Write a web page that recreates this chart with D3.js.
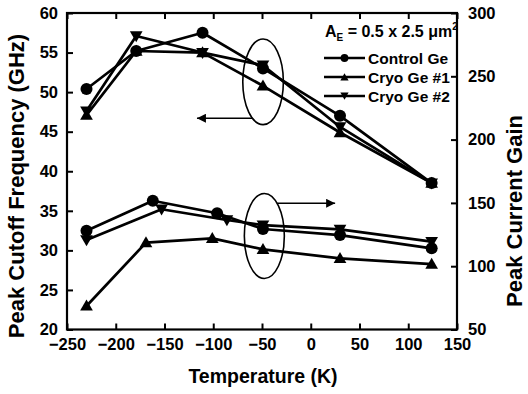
<!DOCTYPE html>
<html><head><meta charset="utf-8">
<script src="https://cdn.jsdelivr.net/npm/d3@7"></script>
<style>
body{margin:0;background:#fff}
text{font-family:"Liberation Sans",Arial,Helvetica,sans-serif;font-weight:bold;fill:#000}
</style>
</head><body><svg id="c" width="528" height="394"></svg>
<script>
// ---- data ----
const xTicks = [-250,-200,-150,-100,-50,0,50,100,150];
const yLeftTicks = [20,25,30,35,40,45,50,55,60];
const yRightTicks = [50,100,150,200,250,300];
const seriesNames = ["Control Ge","Cryo Ge #1","Cryo Ge #2"];
// Peak cutoff frequency (GHz), left axis
const ftTemp = [-230,-179,-111,-49,30,124];
const ftControl = [50.4,55.2,57.5,53.0,47.0,38.5];
const ftCryo1 = [47.1,55.2,55.0,50.8,44.9,38.5];
const ftCryo2 = [47.6,57.1,55.0,53.4,45.6,38.5];
// Peak current gain, right axis
const gainTempControl = [-230,-162,-96,-49,30,124];
const gainTempCryo1 = [-230,-169,-101,-49,30,124];
const gainTempCryo2 = [-230,-153,-86,-49,30,124];
const gainControl = [128.0,151.7,141.8,129.4,124.6,114.1];
const gainCryo1 = [68.6,118.6,122.0,113.3,106.2,101.7];
const gainCryo2 = [120.7,145.0,136.5,132.5,129.1,119.4];

// ---- layout ----
const L = 67, R = 457, T = 13, B = 329.5;
const svg = d3.select("#c");
const x = d3.scaleLinear().domain([-250,150]).range([L,R]);
const yL = d3.scaleLinear().domain([20,60]).range([B,T]);
const yR = d3.scaleLinear().domain([50,300]).range([B,T]);

const tick = 6;
const gB = svg.append("g").attr("transform",`translate(0,${B})`)
  .call(d3.axisBottom(x).tickValues(xTicks).tickSizeInner(-tick).tickSizeOuter(0).tickPadding(9).tickFormat(d3.format("d")));
const gT = svg.append("g").attr("transform",`translate(0,${T})`)
  .call(d3.axisTop(x).tickValues(xTicks).tickSizeInner(-tick).tickSizeOuter(0).tickFormat(""));
const gL = svg.append("g").attr("transform",`translate(${L},0)`)
  .call(d3.axisLeft(yL).tickValues(yLeftTicks).tickSizeInner(-tick).tickSizeOuter(0).tickPadding(9));
const gR = svg.append("g").attr("transform",`translate(${R},0)`)
  .call(d3.axisRight(yR).tickValues(yRightTicks).tickSizeInner(-tick).tickSizeOuter(0).tickPadding(11));
[gB,gT,gL,gR].forEach(g=>{
  g.selectAll(".domain").remove();
  g.selectAll(".tick line").attr("stroke","#000").attr("stroke-width",2);
  g.selectAll(".tick text").attr("font-size",16.5).attr("fill","#000")
   .style("font-family","Liberation Sans, Arial, sans-serif").style("font-weight","bold");
});
gB.selectAll(".tick text").attr("dy","0.71em");
svg.append("rect").attr("x",L).attr("y",T).attr("width",R-L).attr("height",B-T)
  .attr("fill","none").attr("stroke","#000").attr("stroke-width",2.2);

// titles
svg.append("text").attr("x",263).attr("y",383).attr("text-anchor","middle").attr("font-size",19.5).text("Temperature (K)");
svg.append("text").attr("transform","translate(24,186) rotate(-90)").attr("text-anchor","middle").attr("font-size",22).text("Peak Cutoff Frequency (GHz)");
svg.append("text").attr("transform","translate(522,211) rotate(-90)").attr("text-anchor","middle").attr("font-size",22).text("Peak Current Gain");

// symbols
const sym = {
  circle: (g,px,py,s)=>g.append("circle").attr("cx",px).attr("cy",py).attr("r",6*s).attr("fill","#000"),
  up: (g,px,py,s)=>g.append("path").attr("transform",`translate(${px},${py+1})`).attr("d",d3.symbol(d3.symbolTriangle,70*s*s)()).attr("fill","#000"),
  down: (g,px,py,s)=>g.append("path").attr("transform",`translate(${px},${py-1}) rotate(180)`).attr("d",d3.symbol(d3.symbolTriangle,70*s*s)()).attr("fill","#000")
};

function drawSeries(xs, ys, yScale, shape){
  const g = svg.append("g");
  const pts = xs.map((t,i)=>[x(t), yScale(ys[i])]);
  g.append("path").attr("d", d3.line()(pts)).attr("fill","none").attr("stroke","#000").attr("stroke-width",2.7).attr("stroke-linejoin","round");
  pts.forEach(p=>sym[shape](g,p[0],p[1],1));
}
drawSeries(gainTempCryo1, gainCryo1, yR, "up");
drawSeries(gainTempCryo2, gainCryo2, yR, "down");
drawSeries(gainTempControl, gainControl, yR, "circle");
drawSeries(ftTemp, ftCryo1, yL, "up");
drawSeries(ftTemp, ftCryo2, yL, "down");
drawSeries(ftTemp, ftControl, yL, "circle");

// annotations
svg.append("defs").append("marker").attr("id","ah").attr("viewBox","0 0 10 10").attr("refX",10).attr("refY",5)
  .attr("markerWidth",12).attr("markerHeight",9).attr("markerUnits","userSpaceOnUse").attr("orient","auto")
  .append("path").attr("d","M0,0L10,5L0,10Z").attr("fill","#000");
function ellipseArrow(cT, cV, yScale, rx, ry, arrowV, tipT, dir){
  const cx = x(cT), cy = yScale(cV);
  svg.append("ellipse").attr("cx",cx).attr("cy",cy).attr("rx",rx).attr("ry",ry)
    .attr("fill","none").attr("stroke","#000").attr("stroke-width",1.6);
  const ay = yScale(arrowV);
  const dx = rx*Math.sqrt(Math.max(0,1-Math.pow((ay-cy)/ry,2)));
  svg.append("line").attr("x1",cx+dir*dx).attr("y1",ay).attr("x2",x(tipT)).attr("y2",ay)
    .attr("stroke","#000").attr("stroke-width",1.6).attr("marker-end","url(#ah)");
}
ellipseArrow(-48.9, 51.3, yL, 20.3, 42.8, 46.7, -116.7, -1);
ellipseArrow(-47.6, 123.9, yR, 20, 42.5, 149.7, 25, 1);

// legend
const lg = svg.append("g");
const t0 = lg.append("text").attr("x",325).attr("y",37).attr("font-size",16);
t0.append("tspan").text("A");
t0.append("tspan").attr("font-size",10).attr("dy",4).text("E");
t0.append("tspan").attr("dy",-4).text(" = 0.5 x 2.5 \u03BCm");
t0.append("tspan").attr("font-size",10).attr("dy",-7).text("2");
const shapes = ["circle","up","down"];
seriesNames.forEach((n,i)=>{
  const yy = 58 + i*19;
  lg.append("line").attr("x1",324).attr("x2",365).attr("y1",yy).attr("y2",yy).attr("stroke","#000").attr("stroke-width",2.6);
  sym[shapes[i]](lg,344.5,yy,0.65);
  lg.append("text").attr("x",368).attr("y",yy+5.5).attr("font-size",15.5).text(n);
});
</script></body></html>
